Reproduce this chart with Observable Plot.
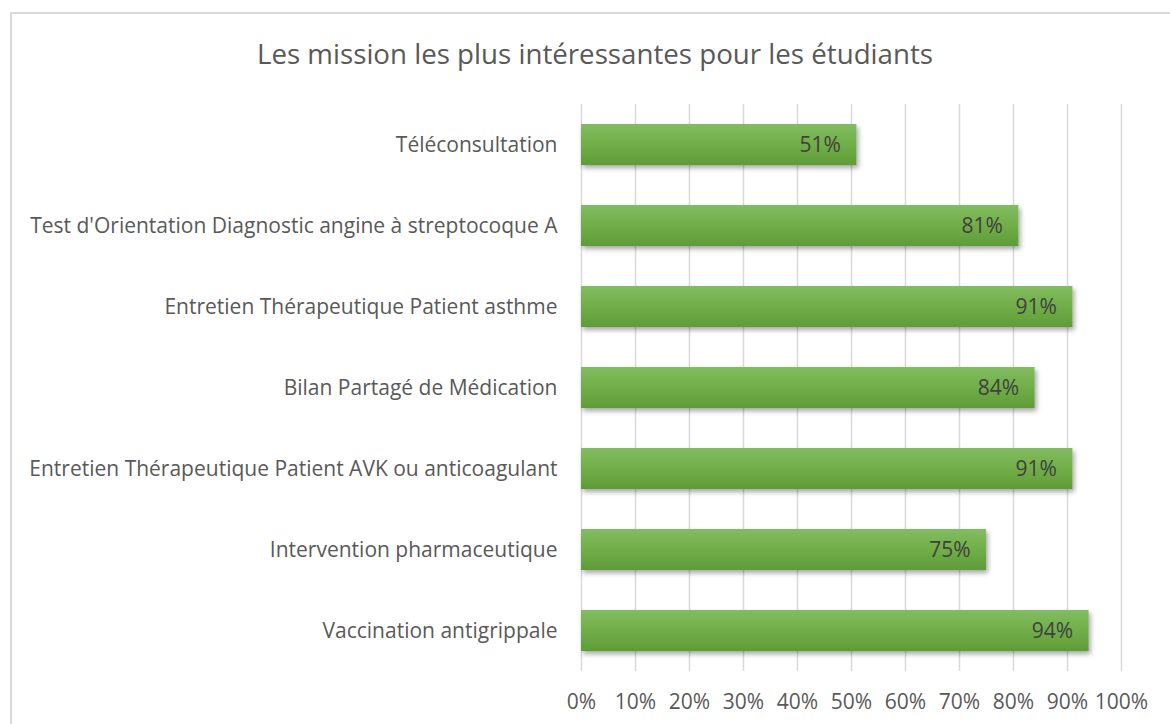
<!DOCTYPE html>
<html>
<head>
<meta charset="utf-8">
<script src="https://cdn.jsdelivr.net/npm/d3@7"></script>
<script src="https://cdn.jsdelivr.net/npm/@observablehq/plot@0.6"></script>
<style>
  html, body { margin: 0; padding: 0; background: #fff; width: 1170px; height: 724px; overflow: hidden; }
  #frame { position: absolute; left: 10px; top: 12px; width: 1180px; height: 740px; border: 2px solid #d9d9d9; box-sizing: border-box; }
  #title { position: absolute; left: 10px; width: 1170px; top: 39px; line-height: 28px; text-align: center; font-family: "Open Sans", sans-serif; font-size: 27.7px; color: #595959; }
  #chart { position: absolute; left: 0; top: 0; }
</style>
</head>
<body>
<div id="frame"></div>
<div id="title">Les mission les plus intéressantes pour les étudiants</div>
<div id="chart"></div>
<script>
const categories = [
  "Téléconsultation",
  "Test d'Orientation Diagnostic angine à streptocoque A",
  "Entretien Thérapeutique Patient asthme",
  "Bilan Partagé de Médication",
  "Entretien Thérapeutique Patient AVK ou anticoagulant",
  "Intervention pharmaceutique",
  "Vaccination antigrippale"
];
const values = [51, 81, 91, 84, 91, 75, 94];
const xTicks = [0, 10, 20, 30, 40, 50, 60, 70, 80, 90, 100];

const data = categories.map((c, i) => ({category: c, value: values[i]}));
const fontFamily = "'Open Sans', sans-serif";

const svg = Plot.plot({
  width: 1170,
  height: 724,
  marginLeft: 581,
  marginRight: 49,
  marginTop: 104,
  marginBottom: 53,
  style: {fontFamily, fontSize: "21px", color: "#595959", background: "transparent", overflow: "visible"},
  x: {domain: [0, 100], label: null},
  y: {domain: categories, range: [101.5, 674.5], paddingInner: 0.49, paddingOuter: 0.25, label: null},
  marks: [
    Plot.gridX(xTicks, {stroke: "#d9d9d9", strokeOpacity: 1, strokeWidth: 1.5}),
    Plot.barX(data, {x: "value", y: "category", fill: "url(#barGrad)"}),
    Plot.text(data, {x: "value", y: "category", text: d => d.value + "%", textAnchor: "end", dx: -16, fill: "#404040", fontSize: 21}),
    Plot.axisX(xTicks, {tickSize: 0, tickPadding: 23, tickFormat: d => d + "%", fontSize: 21, fill: "#595959", label: null}),
    Plot.axisY({tickSize: 0, tickPadding: 24, fontSize: 21, fill: "#595959", label: null})
  ]
});

const s = d3.select(svg);
const defs = s.insert("defs", ":first-child");
const g = defs.append("linearGradient").attr("id", "barGrad").attr("x1", 0).attr("y1", 0).attr("x2", 0).attr("y2", 1);
g.append("stop").attr("offset", "0%").attr("stop-color", "#82bc61");
g.append("stop").attr("offset", "50%").attr("stop-color", "#71ae48");
g.append("stop").attr("offset", "100%").attr("stop-color", "#5e9c37");
const f = defs.append("filter").attr("id", "shadow").attr("x", "-5%").attr("y", "-30%").attr("width", "115%").attr("height", "180%");
f.append("feDropShadow").attr("dx", 2).attr("dy", 3).attr("stdDeviation", 2.5).attr("flood-color", "#000").attr("flood-opacity", 0.35);
s.selectAll("rect").attr("filter", "url(#shadow)");

document.getElementById("chart").appendChild(svg);
</script>
</body>
</html>
